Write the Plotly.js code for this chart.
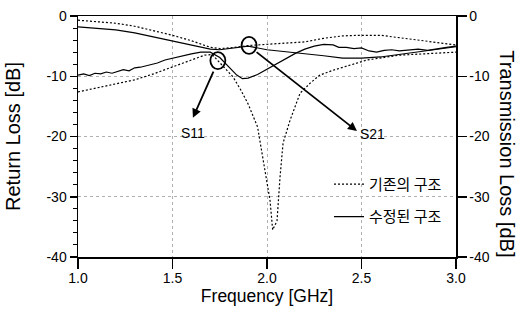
<!DOCTYPE html>
<html>
<head>
<meta charset="utf-8">
<script src="https://cdn.plot.ly/plotly-3.0.1.min.js"></script>
<style>
  html, body { margin: 0; padding: 0; background: #fff; }
  #chart { width: 524px; height: 331px; }
</style>
</head>
<body>
<div id="chart"></div>
<script>
// Frequency axis ticks
const xTickVals = [1.0, 1.5, 2.0, 2.5, 3.0];
const xTickText = ['1.0', '1.5', '2.0', '2.5', '3.0'];
// Loss axes ticks (shared by both axes)
const yTickVals = [0, -10, -20, -30, -40];
const yTickText = ['0', '-10', '-20', '-30', '-40'];

// S11, existing structure (deep resonance near 2.03 GHz)
const fS11Old = [1.0, 1.1, 1.2, 1.3, 1.4, 1.5, 1.6, 1.67, 1.71, 1.74, 1.78, 1.82, 1.86, 1.9, 1.95, 1.98, 2.0, 2.016, 2.03, 2.053, 2.069, 2.085, 2.122, 2.175, 2.23, 2.28, 2.35, 2.45, 2.53, 2.7, 2.85, 3.0];
const s11Old  = [-12.6, -11.9, -11.3, -10.6, -9.6, -8.5, -7.4, -6.5, -6.4, -7.4, -8.6, -10.1, -12.2, -14.6, -18.4, -23.9, -27.5, -30.6, -35.5, -34.0, -26.7, -21.1, -17.3, -12.8, -11.1, -9.8, -9.0, -8.0, -7.3, -6.5, -6.2, -6.0];

// S11, modified structure (measured, shallow dip near 1.87 GHz)
const fS11New = [1.0, 1.03, 1.06, 1.09, 1.12, 1.15, 1.18, 1.21, 1.24, 1.27, 1.3, 1.33, 1.36, 1.39, 1.42, 1.46, 1.5, 1.55, 1.6, 1.65, 1.7, 1.75, 1.8, 1.84, 1.87, 1.9, 1.95, 2.0, 2.05, 2.1, 2.15, 2.2, 2.25, 2.3, 2.35, 2.38, 2.42, 2.46, 2.5, 2.54, 2.58, 2.62, 2.66, 2.7, 2.75, 2.8, 2.85, 2.9, 2.95, 3.0];
const s11New  = [-9.8, -9.6, -9.9, -9.5, -9.6, -9.3, -9.5, -9.2, -8.9, -9.1, -8.6, -8.5, -8.3, -8.0, -7.8, -7.3, -7.0, -6.6, -6.3, -6.0, -6.0, -6.9, -8.5, -9.8, -10.4, -10.3, -9.7, -8.8, -8.0, -7.0, -6.2, -5.5, -5.0, -4.7, -4.8, -5.2, -5.2, -5.4, -5.3, -5.8, -6.0, -5.7, -5.6, -5.8, -5.6, -5.5, -5.7, -5.4, -5.2, -5.0];

// S21, existing structure
const fS21Old = [1.0, 1.1, 1.2, 1.3, 1.4, 1.5, 1.6, 1.7, 1.75, 1.8, 1.9, 2.0, 2.1, 2.2, 2.3, 2.4, 2.5, 2.6, 2.7, 2.8, 2.9, 3.0];
const s21Old  = [-0.7, -0.9, -1.2, -1.7, -2.4, -3.2, -4.1, -5.2, -5.4, -5.3, -4.9, -4.7, -4.5, -4.3, -3.7, -3.3, -3.2, -3.2, -3.6, -4.0, -4.4, -4.8];

// S21, modified structure
const fS21New = [1.0, 1.1, 1.2, 1.3, 1.4, 1.5, 1.6, 1.7, 1.75, 1.8, 1.9, 2.0, 2.1, 2.2, 2.3, 2.4, 2.5, 2.6, 2.7, 2.8, 2.9, 3.0];
const s21New  = [-1.8, -2.0, -2.3, -2.8, -3.5, -4.2, -4.9, -5.5, -5.6, -5.4, -5.0, -5.6, -5.9, -6.2, -6.6, -7.0, -7.0, -6.8, -6.4, -5.9, -5.5, -5.1];

// Legend names
const nameOld = '기존의 구조';
const nameNew = '수정된 구조';

// Frequencies where the S11 / S21 callouts are placed
const s11MarkF = 1.74;
const s21MarkF = 1.905;

function valueAt(fs, vs, f) {
  for (let i = 1; i < fs.length; i++) {
    if (f <= fs[i]) {
      const t = (f - fs[i - 1]) / (fs[i] - fs[i - 1]);
      return vs[i - 1] + t * (vs[i] - vs[i - 1]);
    }
  }
  return vs[vs.length - 1];
}

const sans = '"Liberation Sans", Arial, sans-serif';
const dotted = '2px,2px';

const traces = [
  { x: fS11Old, y: s11Old, name: nameOld, legendgroup: 'old', mode: 'lines',
    line: { color: '#000', width: 1.2, dash: dotted } },
  { x: fS21Old, y: s21Old, name: nameOld, legendgroup: 'old', showlegend: false, yaxis: 'y2', mode: 'lines',
    line: { color: '#000', width: 1.2, dash: dotted } },
  { x: fS11New, y: s11New, name: nameNew, legendgroup: 'new', mode: 'lines',
    line: { color: '#000', width: 1.2 } },
  { x: fS21New, y: s21New, name: nameNew, legendgroup: 'new', showlegend: false, yaxis: 'y2', mode: 'lines',
    line: { color: '#000', width: 1.2 } }
];

const s11MarkV = valueAt(fS11Old, s11Old, s11MarkF);
const s21MarkV = valueAt(fS21Old, s21Old, s21MarkF);

const circle = (f, v) => ({
  type: 'circle', xref: 'x', yref: 'y', xsizemode: 'pixel', ysizemode: 'pixel',
  xanchor: f, yanchor: v, x0: -7.5, x1: 7.5, y0: -8.5, y1: 8.5,
  line: { color: '#000', width: 1.8 }
});

const layout = {
  width: 524, height: 331,
  margin: { l: 78, r: 68, t: 16, b: 74 },
  paper_bgcolor: '#fff', plot_bgcolor: '#fff',
  font: { family: sans, color: '#000', size: 14 },
  xaxis: {
    range: [1, 3], tickvals: xTickVals, ticktext: xTickText,
    ticks: 'outside', ticklen: 10, tickwidth: 1.5, tickcolor: '#000',
    ticklabelstandoff: -2,
    showline: true, linewidth: 1.5, linecolor: '#000', mirror: true,
    showgrid: true, gridcolor: '#b0b0b0', griddash: 'dot', gridwidth: 1,
    zeroline: false,
    tickfont: { family: sans, size: 14 },
    title: { text: 'Frequency [GHz]', font: { family: sans, size: 17.5 }, standoff: 2 }
  },
  yaxis: {
    range: [-40, 0], tickvals: yTickVals, ticktext: yTickText,
    ticks: 'outside', ticklen: 7, tickwidth: 1.5, tickcolor: '#000',
    minor: { dtick: 2, ticks: 'outside', ticklen: 4, tickwidth: 1, tickcolor: '#000', showgrid: false },
    showline: true, linewidth: 1.5, linecolor: '#000',
    showgrid: true, gridcolor: '#b0b0b0', griddash: 'dot', gridwidth: 1,
    zeroline: false,
    tickfont: { family: sans, size: 14 },
    title: { text: 'Return Loss [dB]', font: { family: sans, size: 20 }, standoff: 20 }
  },
  yaxis2: {
    overlaying: 'y', side: 'right',
    range: [-40, 0], tickvals: yTickVals, ticktext: yTickText,
    ticks: 'outside', ticklen: 9, tickwidth: 1.5, tickcolor: '#000',
    showline: true, linewidth: 1.5, linecolor: '#000',
    showgrid: false, zeroline: false,
    tickfont: { family: sans, size: 14 }
  },
  showlegend: true,
  legend: {
    x: 0.664, y: 0.37, xanchor: 'left', yanchor: 'top',
    bgcolor: 'rgba(0,0,0,0)', borderwidth: 0,
    traceorder: 'grouped', tracegroupgap: 10,
    font: { family: '"Noto Sans CJK KR", sans-serif', size: 15 }
  },
  shapes: [circle(s11MarkF, s11MarkV), circle(s21MarkF, s21MarkV)],
  annotations: [
    { x: 1.608, y: -16.9, ax: 1.72, ay: -9.0, xref: 'x', yref: 'y', axref: 'x', ayref: 'y',
      text: '', showarrow: true, arrowhead: 2, arrowsize: 1, arrowwidth: 1.8, arrowcolor: '#000' },
    { x: 2.476, y: -19.1, ax: 1.937, ay: -5.8, xref: 'x', yref: 'y', axref: 'x', ayref: 'y',
      text: '', showarrow: true, arrowhead: 2, arrowsize: 1, arrowwidth: 1.8, arrowcolor: '#000' },
    { x: 1.608, y: -19.4, xref: 'x', yref: 'y', text: 'S11', showarrow: false,
      font: { family: sans, size: 14 } },
    { x: 2.56, y: -19.6, xref: 'x', yref: 'y', text: 'S21', showarrow: false,
      font: { family: sans, size: 14 } },
    { x: 1.135, y: 0.43, xref: 'paper', yref: 'paper', xanchor: 'center', yanchor: 'middle',
      text: 'Transmission Loss [dB]', textangle: 90, showarrow: false,
      font: { family: sans, size: 20 } }
  ]
};

Plotly.newPlot('chart', traces, layout, { displayModeBar: false, staticPlot: true });
</script>
</body>
</html>
